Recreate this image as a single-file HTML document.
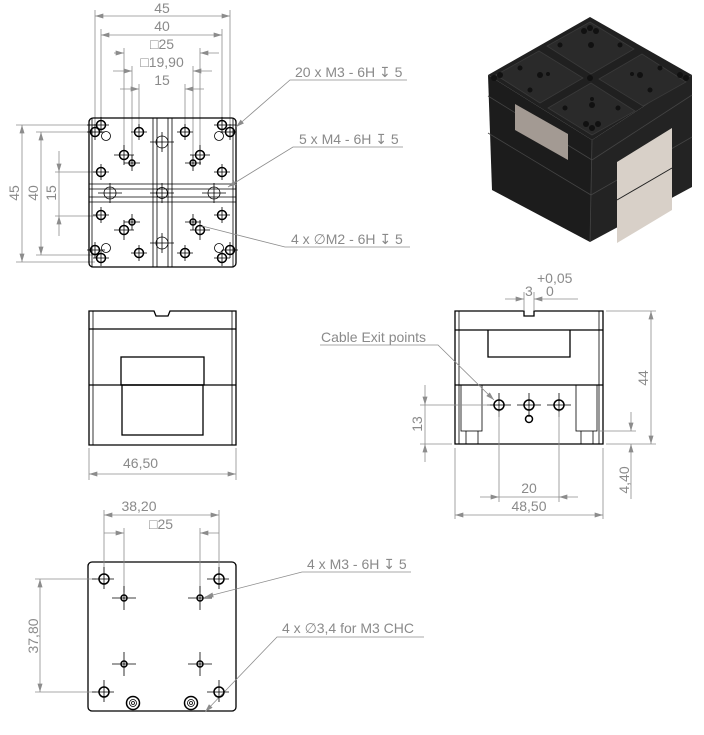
<!DOCTYPE html>
<html><head><meta charset="utf-8"><style>
html,body{margin:0;padding:0;background:#fff}
svg{display:block}
text{font-family:"Liberation Sans","DejaVu Sans",sans-serif;fill:#8a8a8a;font-size:14px}
.o{stroke:#000;stroke-width:1.3;fill:none}
.t{stroke:#000;stroke-width:0.8;fill:none}
.d{stroke:#8c8c8c;stroke-width:0.8;fill:none}
.h{stroke:#000;stroke-width:1.5;fill:none}
.c{stroke:#000;stroke-width:0.8}
</style></head><body>
<svg width="704" height="735" viewBox="0 0 704 735" xmlns="http://www.w3.org/2000/svg">
<defs>
<marker id="a" viewBox="0 0 10 6" refX="10" refY="3" markerWidth="9" markerHeight="5" orient="auto-start-reverse" markerUnits="userSpaceOnUse"><path d="M0,0L10,3L0,6z" fill="#8c8c8c"/></marker>
</defs>

<!-- ===== TOP VIEW ===== -->
<g class="d">
<line x1="95" y1="10" x2="95" y2="125"/><line x1="230" y1="10" x2="230" y2="125"/>
<line x1="95" y1="16" x2="230" y2="16" marker-start="url(#a)" marker-end="url(#a)"/>
<line x1="101" y1="29" x2="101" y2="125"/><line x1="222" y1="29" x2="222" y2="125"/>
<line x1="101" y1="35" x2="222" y2="35" marker-start="url(#a)" marker-end="url(#a)"/>
<line x1="124" y1="48" x2="124" y2="150"/><line x1="200" y1="48" x2="200" y2="150"/>
<line x1="114" y1="53" x2="124" y2="53" marker-end="url(#a)"/><line x1="200" y1="53" x2="219" y2="53" marker-start="url(#a)"/>
<line x1="132" y1="66" x2="132" y2="158"/><line x1="193" y1="66" x2="193" y2="158"/>
<line x1="113" y1="71" x2="132" y2="71" marker-end="url(#a)"/><line x1="193" y1="71" x2="212" y2="71" marker-start="url(#a)"/>
<line x1="139" y1="84" x2="139" y2="128"/><line x1="185" y1="84" x2="185" y2="128"/>
<line x1="120" y1="89" x2="139" y2="89" marker-end="url(#a)"/><line x1="185" y1="89" x2="204" y2="89" marker-start="url(#a)"/>
<line x1="16" y1="125" x2="95" y2="125"/><line x1="16" y1="262" x2="95" y2="262"/>
<line x1="22" y1="125" x2="22" y2="262" marker-start="url(#a)" marker-end="url(#a)"/>
<line x1="36" y1="132" x2="96" y2="132"/><line x1="36" y1="255" x2="96" y2="255"/>
<line x1="41" y1="132" x2="41" y2="255" marker-start="url(#a)" marker-end="url(#a)"/>
<line x1="55" y1="172" x2="96" y2="172"/><line x1="55" y1="216" x2="96" y2="216"/>
<line x1="59" y1="151" x2="59" y2="172" marker-end="url(#a)"/><line x1="59" y1="216" x2="59" y2="236" marker-start="url(#a)"/>
<line x1="59" y1="172" x2="59" y2="216"/>
</g>
<text x="162" y="13" text-anchor="middle">45</text>
<text x="162" y="31" text-anchor="middle">40</text>
<text x="162" y="49" text-anchor="middle">□25</text>
<text x="162" y="67" text-anchor="middle">□19,90</text>
<text x="162" y="85" text-anchor="middle">15</text>
<text transform="translate(19,193) rotate(-90)" text-anchor="middle">45</text>
<text transform="translate(38,193) rotate(-90)" text-anchor="middle">40</text>
<text transform="translate(56,193) rotate(-90)" text-anchor="middle">15</text>

<rect x="89" y="118" width="147" height="149" rx="4" class="o"/>
<g class="t">
<line x1="153" y1="118" x2="153" y2="267"/><line x1="157" y1="118" x2="157" y2="267"/>
<line x1="168" y1="118" x2="168" y2="267"/><line x1="172" y1="118" x2="172" y2="267"/>
<line x1="89" y1="184" x2="236" y2="184"/><line x1="89" y1="189" x2="236" y2="189"/>
<line x1="89" y1="197" x2="236" y2="197"/><line x1="89" y1="202" x2="236" y2="202"/>
<line x1="92" y1="118" x2="92" y2="267"/><line x1="233" y1="118" x2="233" y2="267"/>
</g>
<g class="c">
<path d="M87 125h22M101 117v16M87 132h18M95 124v16M131 132h16M139 124v16M177 132h16M185 124v16M214 125h22M222 117v16M220 132h16M230 124v16
M93 172h16M101 164v16M93 215h16M101 207v16M214 172h16M222 164v16M214 215h16M222 207v16
M150 142h24M162 132v20M150 243h24M162 233v20M98 193h24M110 183v20M202 193h24M214 183v20M150 193h24M162 183v20
M114 155h20M124 145v20M124 163h16M132 155v16M190 155h20M200 145v20M185 163h16M193 155v16
M124 222h16M132 214v16M114 230h20M124 220v20M185 222h16M193 214v16M190 230h20M200 220v20
M131 253h16M139 245v16M177 253h16M185 245v16M87 250h18M95 242v16M93 258h16M101 250v16M222 250h16M230 242v16M214 258h16M222 250v16"/>
</g>
<g class="h">
<circle cx="101" cy="125" r="4.5"/><circle cx="95" cy="132" r="4.5"/>
<circle cx="222" cy="125" r="4.5"/><circle cx="230" cy="132" r="4.5"/>
<circle cx="95" cy="250" r="4.5"/><circle cx="101" cy="258" r="4.5"/>
<circle cx="230" cy="250" r="4.5"/><circle cx="222" cy="258" r="4.5"/>
<circle cx="139" cy="132" r="4.5"/><circle cx="185" cy="132" r="4.5"/>
<circle cx="139" cy="253" r="4.5"/><circle cx="185" cy="253" r="4.5"/>
<circle cx="101" cy="172" r="4.5"/><circle cx="101" cy="215" r="4.5"/>
<circle cx="222" cy="172" r="4.5"/><circle cx="222" cy="215" r="4.5"/>
<circle cx="124" cy="155" r="4.5"/><circle cx="200" cy="155" r="4.5"/>
<circle cx="124" cy="230" r="4.5"/><circle cx="200" cy="230" r="4.5"/>
<circle cx="132" cy="163" r="3"/><circle cx="193" cy="163" r="3"/>
<circle cx="132" cy="222" r="3"/><circle cx="193" cy="222" r="3"/>
</g>
<g class="t" stroke-width="1">
<circle cx="106" cy="136" r="4.5"/><circle cx="219" cy="136" r="4.5"/>
<circle cx="106" cy="248" r="4.5"/><circle cx="219" cy="248" r="4.5"/>
<circle cx="162" cy="142" r="6"/><circle cx="162" cy="243" r="6"/>
<circle cx="110" cy="193" r="6"/><circle cx="214" cy="193" r="6"/><circle cx="162" cy="193" r="5.5"/>
</g>
<g class="d">
<polyline points="407,80 290,80 236,127" marker-end="url(#a)"/>
<polyline points="403,147 293,147 228,187" marker-end="url(#a)"/>
<polyline points="410,247 285,247 202,226"/>
</g>
<text x="295" y="77">20 x M3 - 6H ↧ 5</text>
<text x="299" y="144">5 x M4 - 6H ↧ 5</text>
<text x="291" y="244">4 x ∅M2 - 6H ↧ 5</text>

<!-- ===== FRONT VIEW ===== -->
<path class="o" d="M89 311H154L156 316H168L170 311H236V445H89Z"/>
<g class="t"><line x1="93" y1="311" x2="93" y2="445"/><line x1="232" y1="311" x2="232" y2="445"/></g>
<line x1="89" y1="329" x2="236" y2="329" class="o"/>
<line x1="89" y1="385" x2="236" y2="385" class="o"/>
<rect x="121" y="357" width="83" height="28" class="o"/>
<rect x="122" y="385" width="81" height="50" class="o"/>
<g class="d"><line x1="89" y1="448" x2="89" y2="480"/><line x1="236" y1="448" x2="236" y2="480"/>
<line x1="89" y1="474" x2="236" y2="474" marker-start="url(#a)" marker-end="url(#a)"/></g>
<text x="123" y="468">46,50</text>

<!-- ===== RIGHT VIEW ===== -->
<path class="o" d="M455 311H524V316H534V311H603V444H455Z"/>
<g class="t"><line x1="459" y1="311" x2="459" y2="444"/><line x1="599" y1="311" x2="599" y2="444"/></g>
<line x1="455" y1="330" x2="603" y2="330" class="o"/>
<line x1="455" y1="385" x2="603" y2="385" class="o"/>
<path class="o" d="M488 330V357H570V330"/>
<g class="t" stroke-width="1.1">
<rect x="461" y="385" width="21" height="46"/><rect x="576" y="385" width="21" height="46"/>
<line x1="466" y1="431" x2="466" y2="444"/><line x1="478" y1="431" x2="478" y2="444"/>
<line x1="581" y1="431" x2="581" y2="444"/><line x1="593" y1="431" x2="593" y2="444"/>
</g>
<g class="c"><path d="M487 405h24M499 393v24M517 405h24M529 393v24M547 405h24M559 393v24"/></g>
<g class="h"><circle cx="499" cy="405" r="5"/><circle cx="529" cy="405" r="5"/><circle cx="559" cy="405" r="5"/><circle cx="529" cy="419" r="3.5"/></g>
<g class="d">
<line x1="505" y1="299" x2="524" y2="299" marker-end="url(#a)"/><line x1="534" y1="299" x2="578" y2="299" marker-start="url(#a)"/>
<line x1="524" y1="292" x2="524" y2="311"/><line x1="534" y1="292" x2="534" y2="311"/>
<polyline points="320,345 438,345 494,400" marker-end="url(#a)"/>
<line x1="420" y1="405" x2="490" y2="405"/><line x1="420" y1="444" x2="452" y2="444"/>
<line x1="425" y1="385" x2="425" y2="405" marker-end="url(#a)"/><line x1="425" y1="444" x2="425" y2="462" marker-start="url(#a)"/>
<line x1="425" y1="405" x2="425" y2="444"/>
<line x1="606" y1="311" x2="656" y2="311"/><line x1="606" y1="444" x2="656" y2="444"/>
<line x1="651" y1="311" x2="651" y2="444" marker-start="url(#a)" marker-end="url(#a)"/>
<line x1="599" y1="431" x2="636" y2="431"/>
<line x1="631" y1="412" x2="631" y2="431" marker-end="url(#a)"/><line x1="631" y1="444" x2="631" y2="499" marker-start="url(#a)"/>
<line x1="499" y1="412" x2="499" y2="502"/><line x1="559" y1="412" x2="559" y2="502"/>
<line x1="480" y1="497" x2="499" y2="497" marker-end="url(#a)"/><line x1="559" y1="497" x2="578" y2="497" marker-start="url(#a)"/><line x1="499" y1="497" x2="559" y2="497"/>
<line x1="455" y1="448" x2="455" y2="519"/><line x1="603" y1="448" x2="603" y2="519"/>
<line x1="455" y1="515" x2="603" y2="515" marker-start="url(#a)" marker-end="url(#a)"/>
</g>
<text x="537" y="283">+0,05</text>
<text x="525" y="296">3</text><text x="546" y="296">0</text>
<text x="321" y="342">Cable Exit points</text>
<text transform="translate(422,424) rotate(-90)" text-anchor="middle">13</text>
<text transform="translate(648,378) rotate(-90)" text-anchor="middle">44</text>
<text transform="translate(629,480) rotate(-90)" text-anchor="middle">4,40</text>
<text x="529" y="493" text-anchor="middle">20</text>
<text x="529" y="511" text-anchor="middle">48,50</text>

<!-- ===== BOTTOM VIEW ===== -->
<rect x="88" y="562" width="148" height="149" rx="4" class="o"/>
<g class="d">
<line x1="104" y1="510" x2="104" y2="575"/><line x1="219" y1="510" x2="219" y2="575"/>
<line x1="104" y1="515" x2="219" y2="515" marker-start="url(#a)" marker-end="url(#a)"/>
<line x1="124" y1="528" x2="124" y2="592"/><line x1="200" y1="528" x2="200" y2="592"/>
<line x1="104" y1="533" x2="124" y2="533" marker-end="url(#a)"/><line x1="200" y1="533" x2="219" y2="533" marker-start="url(#a)"/>
<line x1="35" y1="579" x2="96" y2="579"/><line x1="35" y1="692" x2="96" y2="692"/>
<line x1="40" y1="579" x2="40" y2="692" marker-start="url(#a)" marker-end="url(#a)"/>
<polyline points="411,572 302,572 205,597" marker-end="url(#a)"/>
<polyline points="424,637 277,637 205,712" marker-end="url(#a)"/>
</g>
<text x="139" y="511" text-anchor="middle">38,20</text>
<text x="161" y="529" text-anchor="middle">□25</text>
<text transform="translate(38,636) rotate(-90)" text-anchor="middle">37,80</text>
<text x="307" y="569">4 x M3 - 6H ↧ 5</text>
<text x="282" y="633">4 x ∅3,4 for M3 CHC</text>
<g class="c"><path d="M92 579h22M104 567v22M207 579h22M219 567v22M92 692h22M104 680v22M207 692h22M219 680v22
M112 598h24M124 586v24M188 598h24M200 586v24M112 664h24M124 652v24M188 664h24M200 652v24"/></g>
<g class="h"><circle cx="104" cy="579" r="5"/><circle cx="219" cy="579" r="5"/><circle cx="104" cy="692" r="5"/><circle cx="219" cy="692" r="5"/>
<circle cx="124" cy="598" r="3"/><circle cx="200" cy="598" r="3"/><circle cx="124" cy="664" r="3"/><circle cx="200" cy="664" r="3"/>
<circle cx="133" cy="703" r="6.5"/><circle cx="191" cy="703" r="6.5"/></g>
<g class="t"><circle cx="133" cy="703" r="3.5"/><circle cx="191" cy="703" r="3.5"/><circle cx="133" cy="703" r="1.5"/><circle cx="191" cy="703" r="1.5"/></g>

<!-- ===== 3D VIEW ===== -->
<polygon points="488,75 592,140 590,242 492,190" fill="#1c1c1c"/>
<polygon points="592,140 692,75 692,187 590,242" fill="#232323"/>
<polygon points="488,75 590,17 692,75 592,140" fill="#202020"/>
<g fill="#2a2a2a" stroke="#3a3a3a" stroke-width="0.8">
<polygon points="496,75 539,51 583,78 540,103"/>
<polygon points="547,46 590,22 634,49 591,74"/>
<polygon points="548,108 591,83 635,111 592,135"/>
<polygon points="599,79 642,54 686,82 643,106"/>
</g>
<g stroke="#444" stroke-width="0.8" fill="none">
<line x1="488" y1="133" x2="591" y2="195"/><line x1="591" y1="195" x2="692" y2="137"/>
<line x1="488" y1="96" x2="592" y2="160"/><line x1="592" y1="160" x2="692" y2="95"/>
<line x1="592" y1="140" x2="590" y2="242"/>
</g>
<polygon points="515,104 568,134 568,160 515,130" fill="#a39a93"/>
<polygon points="617,162 672,128 672,210 617,243" fill="#d8d0c8"/>
<line x1="617" y1="200" x2="672" y2="168" stroke="#222" stroke-width="1"/>
<g fill="#111">
<circle cx="590" cy="28" r="3"/><circle cx="584" cy="31" r="3"/><circle cx="596" cy="31" r="3"/>
<circle cx="500" cy="75" r="3"/><circle cx="494" cy="78" r="3"/><circle cx="680" cy="75" r="3"/><circle cx="686" cy="78" r="3"/>
<circle cx="592" cy="128" r="3"/><circle cx="586" cy="124" r="3"/><circle cx="598" cy="124" r="3"/>
<circle cx="591" cy="45" r="3"/><circle cx="560" cy="45" r="2.5"/><circle cx="620" cy="45" r="2.5"/>
<circle cx="520" cy="68" r="2.5"/><circle cx="540" cy="75" r="3"/><circle cx="548" cy="74" r="2"/><circle cx="530" cy="90" r="2.5"/>
<circle cx="660" cy="68" r="2.5"/><circle cx="640" cy="75" r="3"/><circle cx="632" cy="74" r="2"/><circle cx="650" cy="90" r="2.5"/>
<circle cx="592" cy="105" r="3"/><circle cx="592" cy="99" r="2"/><circle cx="565" cy="108" r="2.5"/><circle cx="618" cy="108" r="2.5"/>
<circle cx="590" cy="78" r="3"/>
</g>
</svg>
</body></html>
